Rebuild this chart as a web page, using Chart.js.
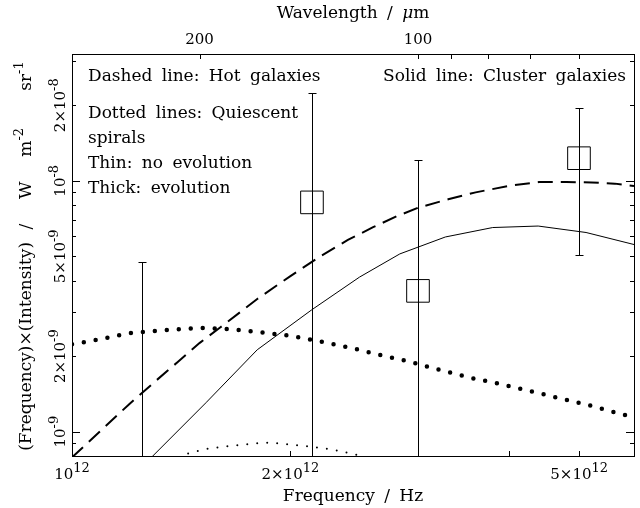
<!DOCTYPE html>
<html>
<head>
<meta charset="utf-8">
<script src="https://cdn.jsdelivr.net/npm/chart.js@4.4.1/dist/chart.umd.min.js"></script>
<style>
  html, body { margin: 0; padding: 0; background: #fff; }
  #wrap { width: 640px; height: 508px; }
</style>
</head>
<body>
<div id="wrap"><canvas id="sed" width="640" height="508"></canvas></div>
<script>
// plot range: frequency in Hz, nu*I_nu in W m^-2 sr^-1
const freqMin = 1e12, freqMax = 5.95e12;
const valMin = 8e-10, valMax = 3.2e-8;

// dashed: hot galaxies
const hotFreq = [1.0e12, 1.1e12, 1.2e12, 1.3e12, 1.4e12, 1.5e12, 1.6e12, 1.8e12, 2.0e12, 2.2e12, 2.4e12,
                 2.6e12, 2.8e12, 3.0e12, 3.3e12, 3.6e12, 4.0e12, 4.4e12, 4.8e12, 5.2e12, 5.6e12, 5.95e12];
const hotVal = [0.79e-9, 1.02e-9, 1.29e-9, 1.58e-9, 1.90e-9, 2.26e-9, 2.60e-9, 3.38e-9, 4.17e-9, 5.00e-9, 5.81e-9,
                6.53e-9, 7.21e-9, 7.81e-9, 8.44e-9, 8.99e-9, 9.54e-9, 9.88e-9, 9.89e-9, 9.85e-9, 9.74e-9, 9.53e-9];

// solid: cluster galaxies
const clusterFreq = [1.24e12, 1.53e12, 1.80e12, 2.14e12, 2.49e12, 2.83e12, 3.27e12, 3.80e12, 4.39e12, 5.11e12, 5.95e12];
const clusterVal = [0.71e-9, 1.305e-9, 2.12e-9, 3.06e-9, 4.13e-9, 5.11e-9, 5.97e-9, 6.51e-9, 6.60e-9, 6.22e-9, 5.57e-9];

// thick dots: quiescent spirals with evolution
const spiralEvoFreq = [1.0e12, 1.09e12, 1.2e12, 1.32e12, 1.5e12, 1.65e12, 1.82e12, 2.0e12, 2.2e12, 2.42e12,
                       2.66e12, 2.92e12, 3.22e12, 3.54e12, 3.89e12, 4.28e12, 4.7e12, 5.18e12, 5.51e12, 5.95e12];
const spiralEvoVal = [2.23e-9, 2.33e-9, 2.47e-9, 2.53e-9, 2.59e-9, 2.56e-9, 2.49e-9, 2.41e-9, 2.29e-9, 2.16e-9,
                      2.02e-9, 1.90e-9, 1.76e-9, 1.64e-9, 1.55e-9, 1.45e-9, 1.36e-9, 1.27e-9, 1.21e-9, 1.14e-9];

// thin dots: quiescent spirals, no evolution
const spiralFreq = [1.365e12, 1.454e12, 1.55e12, 1.667e12, 1.797e12, 1.875e12, 1.985e12, 2.14e12, 2.304e12, 2.479e12, 2.616e12];
const spiralVal = [0.757e-9, 0.825e-9, 0.859e-9, 0.879e-9, 0.899e-9, 0.905e-9, 0.890e-9, 0.871e-9, 0.845e-9, 0.807e-9, 0.757e-9];

// measured points (wavelength in um) with 1-sigma errors
const obsWavelength = [240, 140, 100, 60];
const obsVal = [0.5e-9, 8.2e-9, 3.64e-9, 1.23e-8];
const obsErr = [4.25e-9, 1.41e-8, 8.47e-9, 7.25e-9];

// axis labels
const xTickValues = [1e12, 2e12, 5e12];
const xTickLabels = ['10^12', '2×10^12', '5×10^12'];
const yTickValues = [1e-9, 2e-9, 5e-9, 1e-8, 2e-8];
const yTickLabels = ['10^-9', '2×10^-9', '5×10^-9', '10^-8', '2×10^-8'];
const wlTickValues = [200, 100];
const wlTickLabels = ['200', '100'];
const wlMinorTicks = [90, 80, 70, 60, 50];

const xTitle = 'Frequency / Hz';
const topTitle = 'Wavelength / μm';
const yTitle = '(Frequency)×(Intensity) /  W  m^-2   sr^-1';
const leftNotes = ['Dashed line: Hot galaxies', 'Dotted lines: Quiescent', 'spirals', 'Thin: no evolution', 'Thick: evolution'];
const rightNotes = ['Solid line: Cluster galaxies'];

const C = 2.998e8;
const toFreq = um => C / (um * 1e-6);
const pairs = (xs, ys) => xs.map((v, i) => ({ x: v, y: ys[i] }));

const TICK_FONT = { base: '15px "DejaVu Serif"', sup: '13px "DejaVu Serif"', it: 'italic 15px "DejaVu Serif"', raise: 7, gap: '0px' };
const TEXT_FONT = { base: '17px "DejaVu Serif"', sup: '13px "DejaVu Serif"', it: 'italic 17px "DejaVu Serif"', raise: 8, gap: '4px' };
const YTITLE_FONT = { base: '17px "DejaVu Serif"', sup: '13px "DejaVu Serif"', it: 'italic 17px "DejaVu Serif"', raise: 8, gap: '7px' };

// split "2×10^-9" into plain / superscript / italic pieces
function splitRich(text, f) {
    const parts = [];
    const re = /\^(-?\d+)|(μ)/g;
    let last = 0, m;
    while ((m = re.exec(text))) {
        if (m.index > last) parts.push([text.slice(last, m.index), f.base, 0]);
        if (m[1]) parts.push([m[1], f.sup, -f.raise]);
        else parts.push([m[2], f.it, 0]);
        last = re.lastIndex;
    }
    if (last < text.length) parts.push([text.slice(last), f.base, 0]);
    return parts;
}

function drawRich(ctx, text, x, y, align, f) {
    const parts = splitRich(text, f);
    ctx.wordSpacing = f.gap;
    let w = 0;
    parts.forEach(p => { ctx.font = p[1]; w += ctx.measureText(p[0]).width; });
    let cx = align === 'center' ? x - w / 2 : align === 'right' ? x - w : x;
    ctx.textAlign = 'left';
    ctx.textBaseline = 'alphabetic';
    parts.forEach(p => {
        ctx.font = p[1];
        ctx.fillText(p[0], cx, y + p[2]);
        cx += ctx.measureText(p[0]).width;
    });
    ctx.wordSpacing = '0px';
}

function logTicks(min, max) {
    const out = [];
    for (let k = Math.floor(Math.log10(min)); k <= Math.ceil(Math.log10(max)); k++) {
        for (let m = 1; m <= 9; m++) {
            const v = m * Math.pow(10, k);
            if (v >= min && v <= max) out.push({ v, major: m === 1 });
        }
    }
    return out;
}

const axesPlugin = {
    id: 'pgAxes',
    afterDatasetsDraw(chart) {
        const { ctx, chartArea: a, scales: { x, y } } = chart;
        ctx.save();
        ctx.strokeStyle = '#000';
        ctx.fillStyle = '#000';
        ctx.lineWidth = 1;

        // error bars, clipped to the frame
        ctx.save();
        ctx.beginPath();
        ctx.rect(a.left, a.top, a.right - a.left, a.bottom - a.top);
        ctx.clip();
        obsWavelength.forEach((wl, i) => {
            const px = Math.round(x.getPixelForValue(toFreq(wl))) + 0.5;
            const hi = obsVal[i] + obsErr[i];
            const lo = obsVal[i] - obsErr[i];
            const pyHi = Math.round(y.getPixelForValue(hi)) + 0.5;
            const pyLo = lo > 0 ? Math.round(y.getPixelForValue(lo)) + 0.5 : a.bottom + 20;
            ctx.beginPath();
            ctx.moveTo(px, pyHi); ctx.lineTo(px, pyLo);
            ctx.moveTo(px - 4, pyHi); ctx.lineTo(px + 4, pyHi);
            if (lo > 0) { ctx.moveTo(px - 4, pyLo); ctx.lineTo(px + 4, pyLo); }
            ctx.stroke();
        });
        ctx.restore();

        // frame
        ctx.strokeRect(a.left + 0.5, a.top + 0.5, a.right - a.left, a.bottom - a.top);

        // y ticks, both sides, pointing in
        ctx.beginPath();
        logTicks(valMin, valMax).forEach(t => {
            const py = Math.round(y.getPixelForValue(t.v)) + 0.5;
            const len = t.major ? 8 : 4;
            ctx.moveTo(a.left, py); ctx.lineTo(a.left + len, py);
            ctx.moveTo(a.right, py); ctx.lineTo(a.right - len, py);
        });
        // bottom frequency ticks
        logTicks(freqMin, freqMax).forEach(t => {
            const px = Math.round(x.getPixelForValue(t.v)) + 0.5;
            const len = t.major ? 8 : 5;
            ctx.moveTo(px, a.bottom); ctx.lineTo(px, a.bottom - len);
        });
        // top wavelength ticks
        wlTickValues.concat(wlMinorTicks).forEach(wl => {
            const f = toFreq(wl);
            if (f < freqMin || f > freqMax) return;
            const px = Math.round(x.getPixelForValue(f)) + 0.5;
            ctx.moveTo(px, a.top); ctx.lineTo(px, a.top + 5);
        });
        ctx.stroke();

        // tick labels
        xTickValues.forEach((v, i) => drawRich(ctx, xTickLabels[i], x.getPixelForValue(v), a.bottom + 23, 'center', TICK_FONT));
        wlTickValues.forEach((wl, i) => drawRich(ctx, wlTickLabels[i], x.getPixelForValue(toFreq(wl)), a.top - 10, 'center', TICK_FONT));
        yTickValues.forEach((v, i) => {
            ctx.save();
            ctx.translate(a.left - 7, y.getPixelForValue(v));
            ctx.rotate(-Math.PI / 2);
            drawRich(ctx, yTickLabels[i], 0, 0, 'center', TICK_FONT);
            ctx.restore();
        });

        // axis titles
        const cx = (a.left + a.right) / 2;
        drawRich(ctx, xTitle, cx, a.bottom + 45, 'center', TEXT_FONT);
        drawRich(ctx, topTitle, cx, a.top - 36, 'center', TEXT_FONT);
        ctx.save();
        ctx.translate(a.left - 41, (a.top + a.bottom) / 2 + 1);
        ctx.rotate(-Math.PI / 2);
        drawRich(ctx, yTitle, 0, 0, 'center', YTITLE_FONT);
        ctx.restore();

        // notes inside the frame
        const noteOffsets = [27, 64, 89, 114, 139];
        leftNotes.forEach((t, i) => drawRich(ctx, t, a.left + 16, a.top + noteOffsets[i], 'left', TEXT_FONT));
        rightNotes.forEach((t, i) => drawRich(ctx, t, a.right - 8, a.top + noteOffsets[i], 'right', TEXT_FONT));

        ctx.restore();
    }
};

new Chart(document.getElementById('sed'), {
    type: 'line',
    data: {
        datasets: [
            { label: 'Hot galaxies', data: pairs(hotFreq, hotVal), borderColor: '#000', borderWidth: 2,
              borderDash: [15, 8], pointRadius: 0, fill: false },
            { label: 'Cluster galaxies', data: pairs(clusterFreq, clusterVal), borderColor: '#000', borderWidth: 1,
              pointRadius: 0, fill: false },
            { label: 'Quiescent spirals, evolution', data: pairs(spiralEvoFreq, spiralEvoVal), borderColor: '#000',
              borderWidth: 4.5, borderDash: [0, 12], borderCapStyle: 'round', pointRadius: 0, fill: false },
            { label: 'Quiescent spirals, no evolution', data: pairs(spiralFreq, spiralVal), borderColor: '#000',
              borderWidth: 2, borderDash: [0, 10], borderCapStyle: 'round', pointRadius: 0, fill: false },
            { type: 'scatter', label: 'Measured', data: pairs(obsWavelength.map(toFreq), obsVal),
              pointStyle: 'rect', pointRadius: 16, pointHoverRadius: 16, borderColor: '#000', borderWidth: 1,
              backgroundColor: 'rgba(0,0,0,0)' }
        ]
    },
    options: {
        responsive: false,
        animation: false,
        devicePixelRatio: 1,
        layout: { autoPadding: false, padding: { left: 72, right: 6, top: 54, bottom: 52 } },
        plugins: { legend: { display: false }, tooltip: { enabled: false } },
        scales: {
            x: { type: 'logarithmic', min: freqMin, max: freqMax, display: false },
            y: { type: 'logarithmic', min: valMin, max: valMax, display: false }
        }
    },
    plugins: [axesPlugin]
});
</script>
</body>
</html>
